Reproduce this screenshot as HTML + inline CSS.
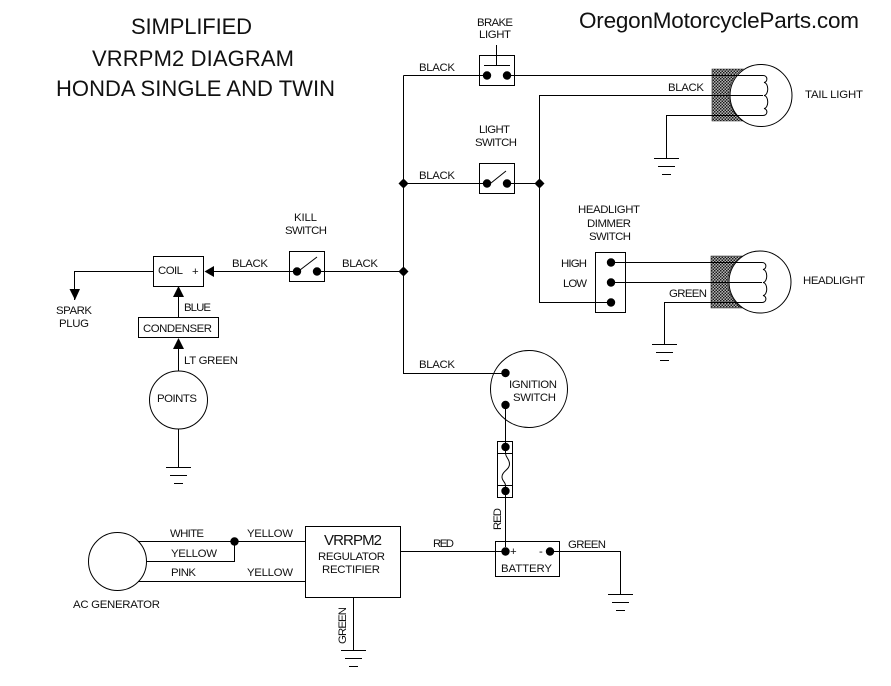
<!DOCTYPE html>
<html><head><meta charset="utf-8"><style>
html,body{margin:0;padding:0;background:#fff}
svg{display:block}
text{font-family:"Liberation Sans",Arial,sans-serif;font-size:11.4px;fill:#111}
.t{font-size:22px}
</style></head><body>
<svg width="891" height="686" viewBox="0 0 891 686" xmlns="http://www.w3.org/2000/svg">
<defs>
<pattern id="h" width="3" height="3" patternUnits="userSpaceOnUse">
<rect width="3" height="3" fill="#8a8a8a"/>
<path d="M0 0L3 3" stroke="#111" stroke-width="1"/>
<path d="M3 0L0 3" stroke="#ddd" stroke-width=".5"/>
</pattern>
</defs>
<rect width="891" height="686" fill="#fff"/>

<!-- hatch blocks -->
<path d="M712 69H743A31 31 0 0 0 743 121H712Z" fill="url(#h)" stroke="#222" stroke-width=".6"/>
<path d="M711 256H742A31 31 0 0 0 742 308H711Z" fill="url(#h)" stroke="#222" stroke-width=".6"/>

<g fill="none" stroke="#000" stroke-width="1" shape-rendering="crispEdges">
<!-- bus -->
<path d="M403.5 75.5V373.5H505"/>
<path d="M403.5 75.5H487M507 75.5H763"/>
<path d="M763 95.5H539.5V302.5H611"/>
<path d="M403.5 183.5H487M507 183.5H539.5"/>
<path d="M763 115.5H666.5V158"/>
<!-- brake -->
<rect x="479.5" y="55.5" width="35" height="30"/>
<path d="M496.5 45V65.5M484 65.5H510"/>
<!-- light sw -->
<rect x="479.5" y="163.5" width="35" height="30"/>
<!-- dimmer -->
<rect x="595.5" y="252.5" width="30" height="60"/>
<path d="M611 262.5H762M611 282.5H762M762 302.5H664.5V344"/>
<!-- kill -->
<rect x="289.5" y="251.5" width="35" height="30"/>
<path d="M74.5 300V271.5H153.5M214 271.5H297M317 271.5H403.5"/>
<!-- coil -->
<rect x="153.5" y="256.5" width="50" height="30"/>
<rect x="138.5" y="317.5" width="80" height="20"/>
<path d="M178.5 296V317.5M178.5 349V371M178.5 429V467"/>
<!-- fuse -->
<rect x="497.5" y="441.5" width="15" height="56"/>
<path d="M497.5 453.5H512.5M497.5 485.5H512.5"/>
<path d="M505.5 405V453M505.5 486V547"/>
<!-- battery -->
<rect x="495.5" y="541.5" width="64" height="35"/>
<path d="M401 551.5H505M550 551.5H620.5V594"/>
<!-- VRRPM -->
<rect x="305.5" y="526.5" width="95" height="71"/>
<path d="M138 541.5H305.5M147 561.5H234.5V541.5M138 581.5H305.5"/>
<path d="M353.5 597V650"/>
<!-- grounds -->
<path d="M654 158.5H679M658 166.5H675M662 174.5H671"/>
<path d="M652 344.5H677M656 352.5H673M660 360.5H669"/>
<path d="M166 467.5H191M170 475.5H187M174 483.5H183"/>
<path d="M608 594.5H633M612 602.5H629M616 610.5H625"/>
<path d="M341 650.5H366M345 658.5H362M349 666.5H358"/>
</g>

<g fill="none" stroke="#000" stroke-width="1">
<circle cx="761" cy="95.5" r="31"/>
<circle cx="760" cy="282" r="31"/>
<circle cx="178.5" cy="400" r="29"/>
<circle cx="529" cy="389" r="38.5"/>
<circle cx="117.5" cy="561.5" r="29"/>
<path d="M491 183L506 171M300 270L317 257"/>
<path d="M763 75.5C768 75.5 768 82 764 82.500C769 83 769 95 764 95.500C769 96 769 108 764 108.500C768 109 768 115.500 763 115.500"/>
<path d="M762 262.500C767 262.500 767 269 763 269.500C768 270 768 282 763 282.500C768 283 768 295 763 295.500C767 296 767 302.500 762 302.500"/>
<path d="M505.500 453.500C506 458 509.500 459 509.500 464C509.500 470 502 471 502 477C502 481 505.500 482 505.500 485.500"/>
</g>

<!-- dots -->
<g fill="#000">
<circle cx="487" cy="75.500" r="4.200"/><circle cx="507" cy="75.500" r="4.200"/>
<circle cx="487" cy="183.500" r="4.200"/><circle cx="507" cy="183.500" r="4.200"/>
<circle cx="611" cy="262.500" r="4.200"/><circle cx="611" cy="282.500" r="4.200"/><circle cx="611" cy="302.500" r="4.200"/>
<circle cx="297" cy="271.500" r="4.200"/><circle cx="317" cy="271.500" r="4.200"/>
<circle cx="505.500" cy="373" r="4.200"/><circle cx="505.500" cy="405" r="4.200"/>
<circle cx="505.500" cy="447" r="4.200"/><circle cx="505.500" cy="491" r="4.200"/>
<circle cx="505.500" cy="551.500" r="4.200"/><circle cx="550" cy="551.500" r="4.200"/>
<circle cx="234.500" cy="541.500" r="4.200"/>
<circle cx="403.500" cy="183.500" r="3.600"/><path d="M403.500 178.500L408.500 183.500L403.500 188.500L398.500 183.500Z"/>
<circle cx="539.500" cy="183.500" r="3.600"/><path d="M539.500 178.500L544.500 183.500L539.500 188.500L534.500 183.500Z"/>
<circle cx="403.500" cy="271.500" r="3.600"/><path d="M403.500 266.500L408.500 271.500L403.500 276.500L398.500 271.500Z"/>
<!-- arrows -->
<path d="M69.500 289H80L75 300Z"/>
<path d="M204.500 271.500L214 266V277Z"/>
<path d="M178.500 286L184 297H173Z"/>
<path d="M178.500 338L184 349H173Z"/>
</g>

<!-- text -->
<text class="t" x="131" y="34" textLength="121">SIMPLIFIED</text>
<text class="t" x="92" y="66" textLength="202">VRRPM2 DIAGRAM</text>
<text class="t" x="56" y="96" textLength="279">HONDA SINGLE AND TWIN</text>
<text style="font-size:22.500px" x="579" y="28" textLength="280">OregonMotorcycleParts.com</text>

<text x="477" y="26" textLength="36">BRAKE</text>
<text x="479" y="38" textLength="32">LIGHT</text>
<text x="419" y="71" textLength="36">BLACK</text>
<text x="668" y="91" textLength="36">BLACK</text>
<text x="479" y="133" textLength="31">LIGHT</text>
<text x="475" y="146" textLength="42">SWITCH</text>
<text x="419" y="179" textLength="36">BLACK</text>
<text x="805" y="98" textLength="58">TAIL LIGHT</text>
<text x="578" y="213" textLength="62">HEADLIGHT</text>
<text x="587" y="227" textLength="44">DIMMER</text>
<text x="589" y="240" textLength="42">SWITCH</text>
<text x="561" y="267" textLength="26">HIGH</text>
<text x="563" y="287" textLength="24">LOW</text>
<text x="669" y="297" textLength="38">GREEN</text>
<text x="803" y="284" textLength="62">HEADLIGHT</text>
<text x="294" y="221" textLength="23">KILL</text>
<text x="285" y="234" textLength="42">SWITCH</text>
<text x="232" y="267" textLength="36">BLACK</text>
<text x="342" y="267" textLength="36">BLACK</text>
<text x="158" y="274" textLength="25">COIL</text>
<text x="192" y="275">+</text>
<text x="56" y="314" textLength="36">SPARK</text>
<text x="59" y="327" textLength="30">PLUG</text>
<text x="184" y="311" textLength="27">BLUE</text>
<text x="143" y="332" textLength="69">CONDENSER</text>
<text x="184" y="364" textLength="54">LT GREEN</text>
<text x="157" y="402" textLength="40">POINTS</text>
<text x="419" y="368" textLength="36">BLACK</text>
<text x="509" y="388" textLength="48">IGNITION</text>
<text x="513" y="401" textLength="43">SWITCH</text>
<text x="433" y="547" textLength="21">RED</text>
<text x="510" y="555">+</text>
<text x="539" y="555">-</text>
<text x="568" y="548" textLength="38">GREEN</text>
<text x="501" y="572" textLength="51">BATTERY</text>
<text transform="translate(501 530) rotate(-90)" textLength="22">RED</text>
<text x="170" y="537" textLength="34">WHITE</text>
<text x="247" y="537" textLength="46">YELLOW</text>
<text x="171" y="557" textLength="46">YELLOW</text>
<text x="171" y="576" textLength="25">PINK</text>
<text x="247" y="576" textLength="46">YELLOW</text>
<text style="font-size:15px" x="324" y="545" textLength="58">VRRPM2</text>
<text x="318" y="560" textLength="67">REGULATOR</text>
<text x="322" y="573" textLength="58">RECTIFIER</text>
<text x="73" y="608" textLength="87">AC GENERATOR</text>
<text transform="translate(346 644) rotate(-90)" textLength="37">GREEN</text>
</svg>
</body></html>
